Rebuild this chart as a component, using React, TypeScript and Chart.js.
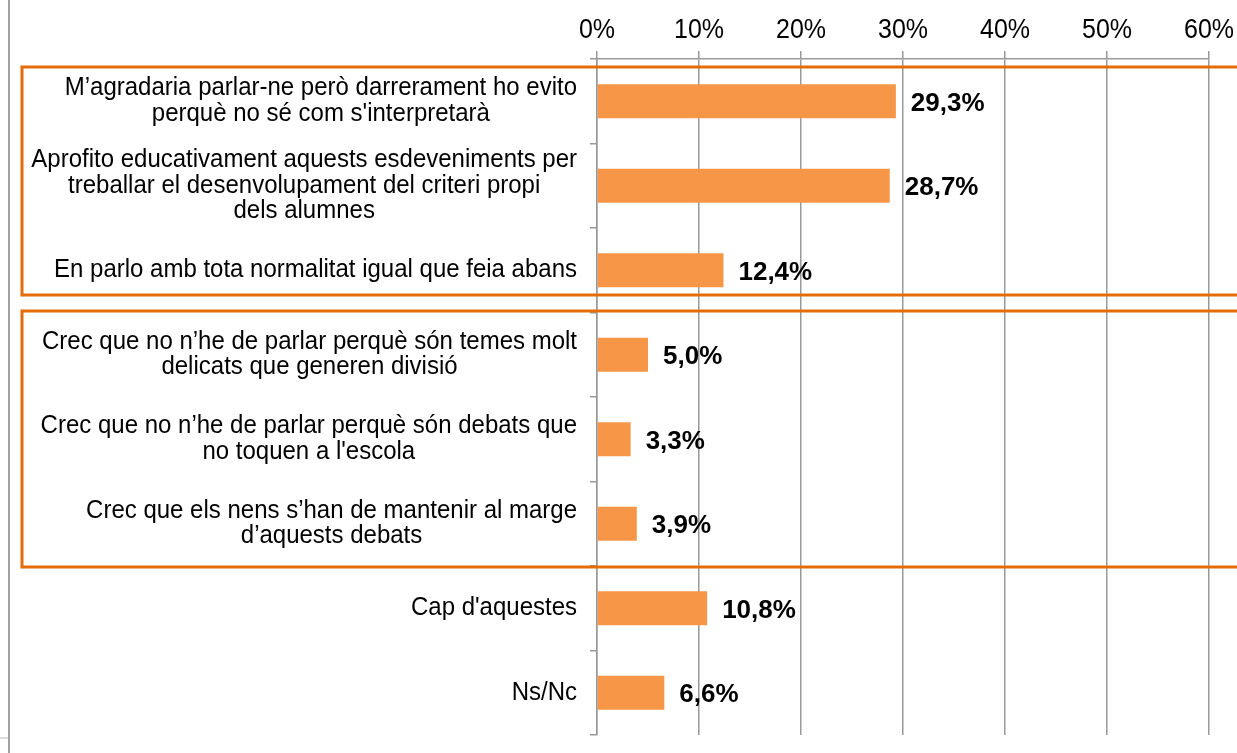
import { useEffect, useRef } from "react";
import { Chart, registerables } from "chart.js";

Chart.register(...registerables);

const FONT = '"Liberation Sans", Arial, Helvetica, sans-serif';

const categories: string[][] = [
  ["M’agradaria parlar-ne però darrerament ho evito", "perquè no sé com s'interpretarà"],
  ["Aprofito educativament aquests esdeveniments per", "treballar el desenvolupament del criteri propi", "dels alumnes"],
  ["En parlo amb tota normalitat igual que feia abans"],
  ["Crec que no n’he de parlar perquè són temes molt", "delicats que generen divisió"],
  ["Crec que no n’he de parlar perquè són debats que", "no toquen a l'escola"],
  ["Crec que els nens s’han de mantenir al marge", "d’aquests debats"],
  ["Cap d'aquestes"],
  ["Ns/Nc"],
];

const values = [29.3, 28.7, 12.4, 5.0, 3.3, 3.9, 10.8, 6.6];

const xMin = 0;
const xMax = 60;
const xStep = 10;

// group highlight boxes: first and last category index
const groupStart = [0, 3];
const groupEnd = [2, 5];

// styling (pixel insets relative to band edges)
const groupInsetTop = [8, -1.5];
const groupInsetBottom = [17.5, -1];

const W = 1237;
const H = 753;

const fmt = (v: number) => v.toFixed(1).replace(".", ",") + "%";
const tickFmt = (v: number) => `${v}%`;

const decorPlugin = {
  id: "decor",
  beforeDraw(chart: any) {
    const ctx = chart.ctx;
    ctx.save();
    ctx.fillStyle = "#ffffff";
    ctx.fillRect(0, 0, chart.width, chart.height);
    ctx.fillStyle = "#a0a0a0";
    ctx.fillRect(8, 0, 2, chart.height);
    ctx.fillStyle = "#dcdcdc";
    ctx.fillRect(0, 737, 8, 2);
    ctx.restore();
  },
  afterDraw(chart: any) {
    const ctx = chart.ctx;
    const y = chart.scales.y;
    const x = chart.scales.x;
    const area = chart.chartArea;
    const band = (area.bottom - area.top) / categories.length;
    ctx.save();
    ctx.fillStyle = "#000";

    // x tick labels (slightly tall glyphs as in the source)
    ctx.font = `25px ${FONT}`;
    ctx.textAlign = "center";
    ctx.textBaseline = "alphabetic";
    x.ticks.forEach((t: any) => {
      const px = x.getPixelForValue(t.value);
      ctx.save();
      ctx.translate(px, 37.5);
      ctx.scale(1, 1.12);
      ctx.fillText(tickFmt(t.value), 0, 0);
      ctx.restore();
    });

    // category labels: block right aligned, lines centred within block
    ctx.font = `24px ${FONT}`;
    ctx.textBaseline = "middle";
    ctx.textAlign = "center";
    const lineStep = 25.5;
    const rightX = area.left - 20;
    categories.forEach((lines, i) => {
      const cy = y.getPixelForValue(i);
      const maxW = Math.max(...lines.map((l) => ctx.measureText(l).width));
      const cx = rightX - maxW / 2;
      const startY = cy - ((lines.length - 1) * lineStep) / 2;
      lines.forEach((l, j) => {
        ctx.save();
        ctx.translate(cx, startY + j * lineStep);
        ctx.scale(1, 1.05);
        ctx.fillText(l, 0, 0);
        ctx.restore();
      });
    });

    // value labels
    ctx.font = `bold 26px ${FONT}`;
    ctx.textAlign = "left";
    ctx.textBaseline = "alphabetic";
    const meta = chart.getDatasetMeta(0);
    meta.data.forEach((bar: any, i: number) => {
      ctx.fillText(fmt(values[i]), bar.x + 15, bar.y + 9.5);
    });

    // group boxes
    ctx.strokeStyle = "#E46C0A";
    ctx.lineWidth = 3;
    groupStart.forEach((s, g) => {
      const top = y.getPixelForValue(s) - band / 2 + groupInsetTop[g];
      const bottom = y.getPixelForValue(groupEnd[g]) + band / 2 - groupInsetBottom[g];
      ctx.strokeRect(22, top, chart.width + 20, bottom - top);
    });
    ctx.restore();
  },
};

export default function App() {
  const ref = useRef<HTMLCanvasElement | null>(null);
  useEffect(() => {
    if (!ref.current) return;
    const chart = new Chart(ref.current, {
      type: "bar",
      data: {
        labels: categories.map((c) => c.join(" ")),
        datasets: [
          {
            data: values,
            backgroundColor: "#F79646",
            borderWidth: 0,
            barPercentage: 0.4,
            categoryPercentage: 1.0,
          },
        ],
      },
      options: {
        indexAxis: "y",
        responsive: false,
        animation: false,
        layout: { padding: { left: 0, top: 0, right: 28, bottom: 18 } },
        plugins: { legend: { display: false }, tooltip: { enabled: false } },
        scales: {
          x: {
            type: "linear",
            position: "top",
            min: xMin,
            max: xMax,
            ticks: { stepSize: xStep, display: false },
            grid: { color: "#999999", lineWidth: 1.5, tickLength: 8, drawTicks: true },
            border: { display: true, color: "#999999", width: 1.5 },
            afterFit: (s: any) => {
              s.height = 59;
            },
          },
          y: {
            type: "category",
            ticks: { display: false },
            grid: {
              offset: true,
              drawOnChartArea: false,
              drawTicks: true,
              tickLength: 7,
              color: "#999999",
              lineWidth: 1.5,
            },
            border: { display: true, color: "#999999", width: 1.5 },
            afterFit: (s: any) => {
              s.width = 597;
            },
          },
        },
      },
      plugins: [decorPlugin],
    } as any);
    return () => chart.destroy();
  }, []);
  return (
    <div style={{ position: "fixed", left: 0, top: 0, width: W, height: H, background: "#fff" }}>
      <canvas ref={ref} width={W} height={H} style={{ display: "block" }} />
    </div>
  );
}
